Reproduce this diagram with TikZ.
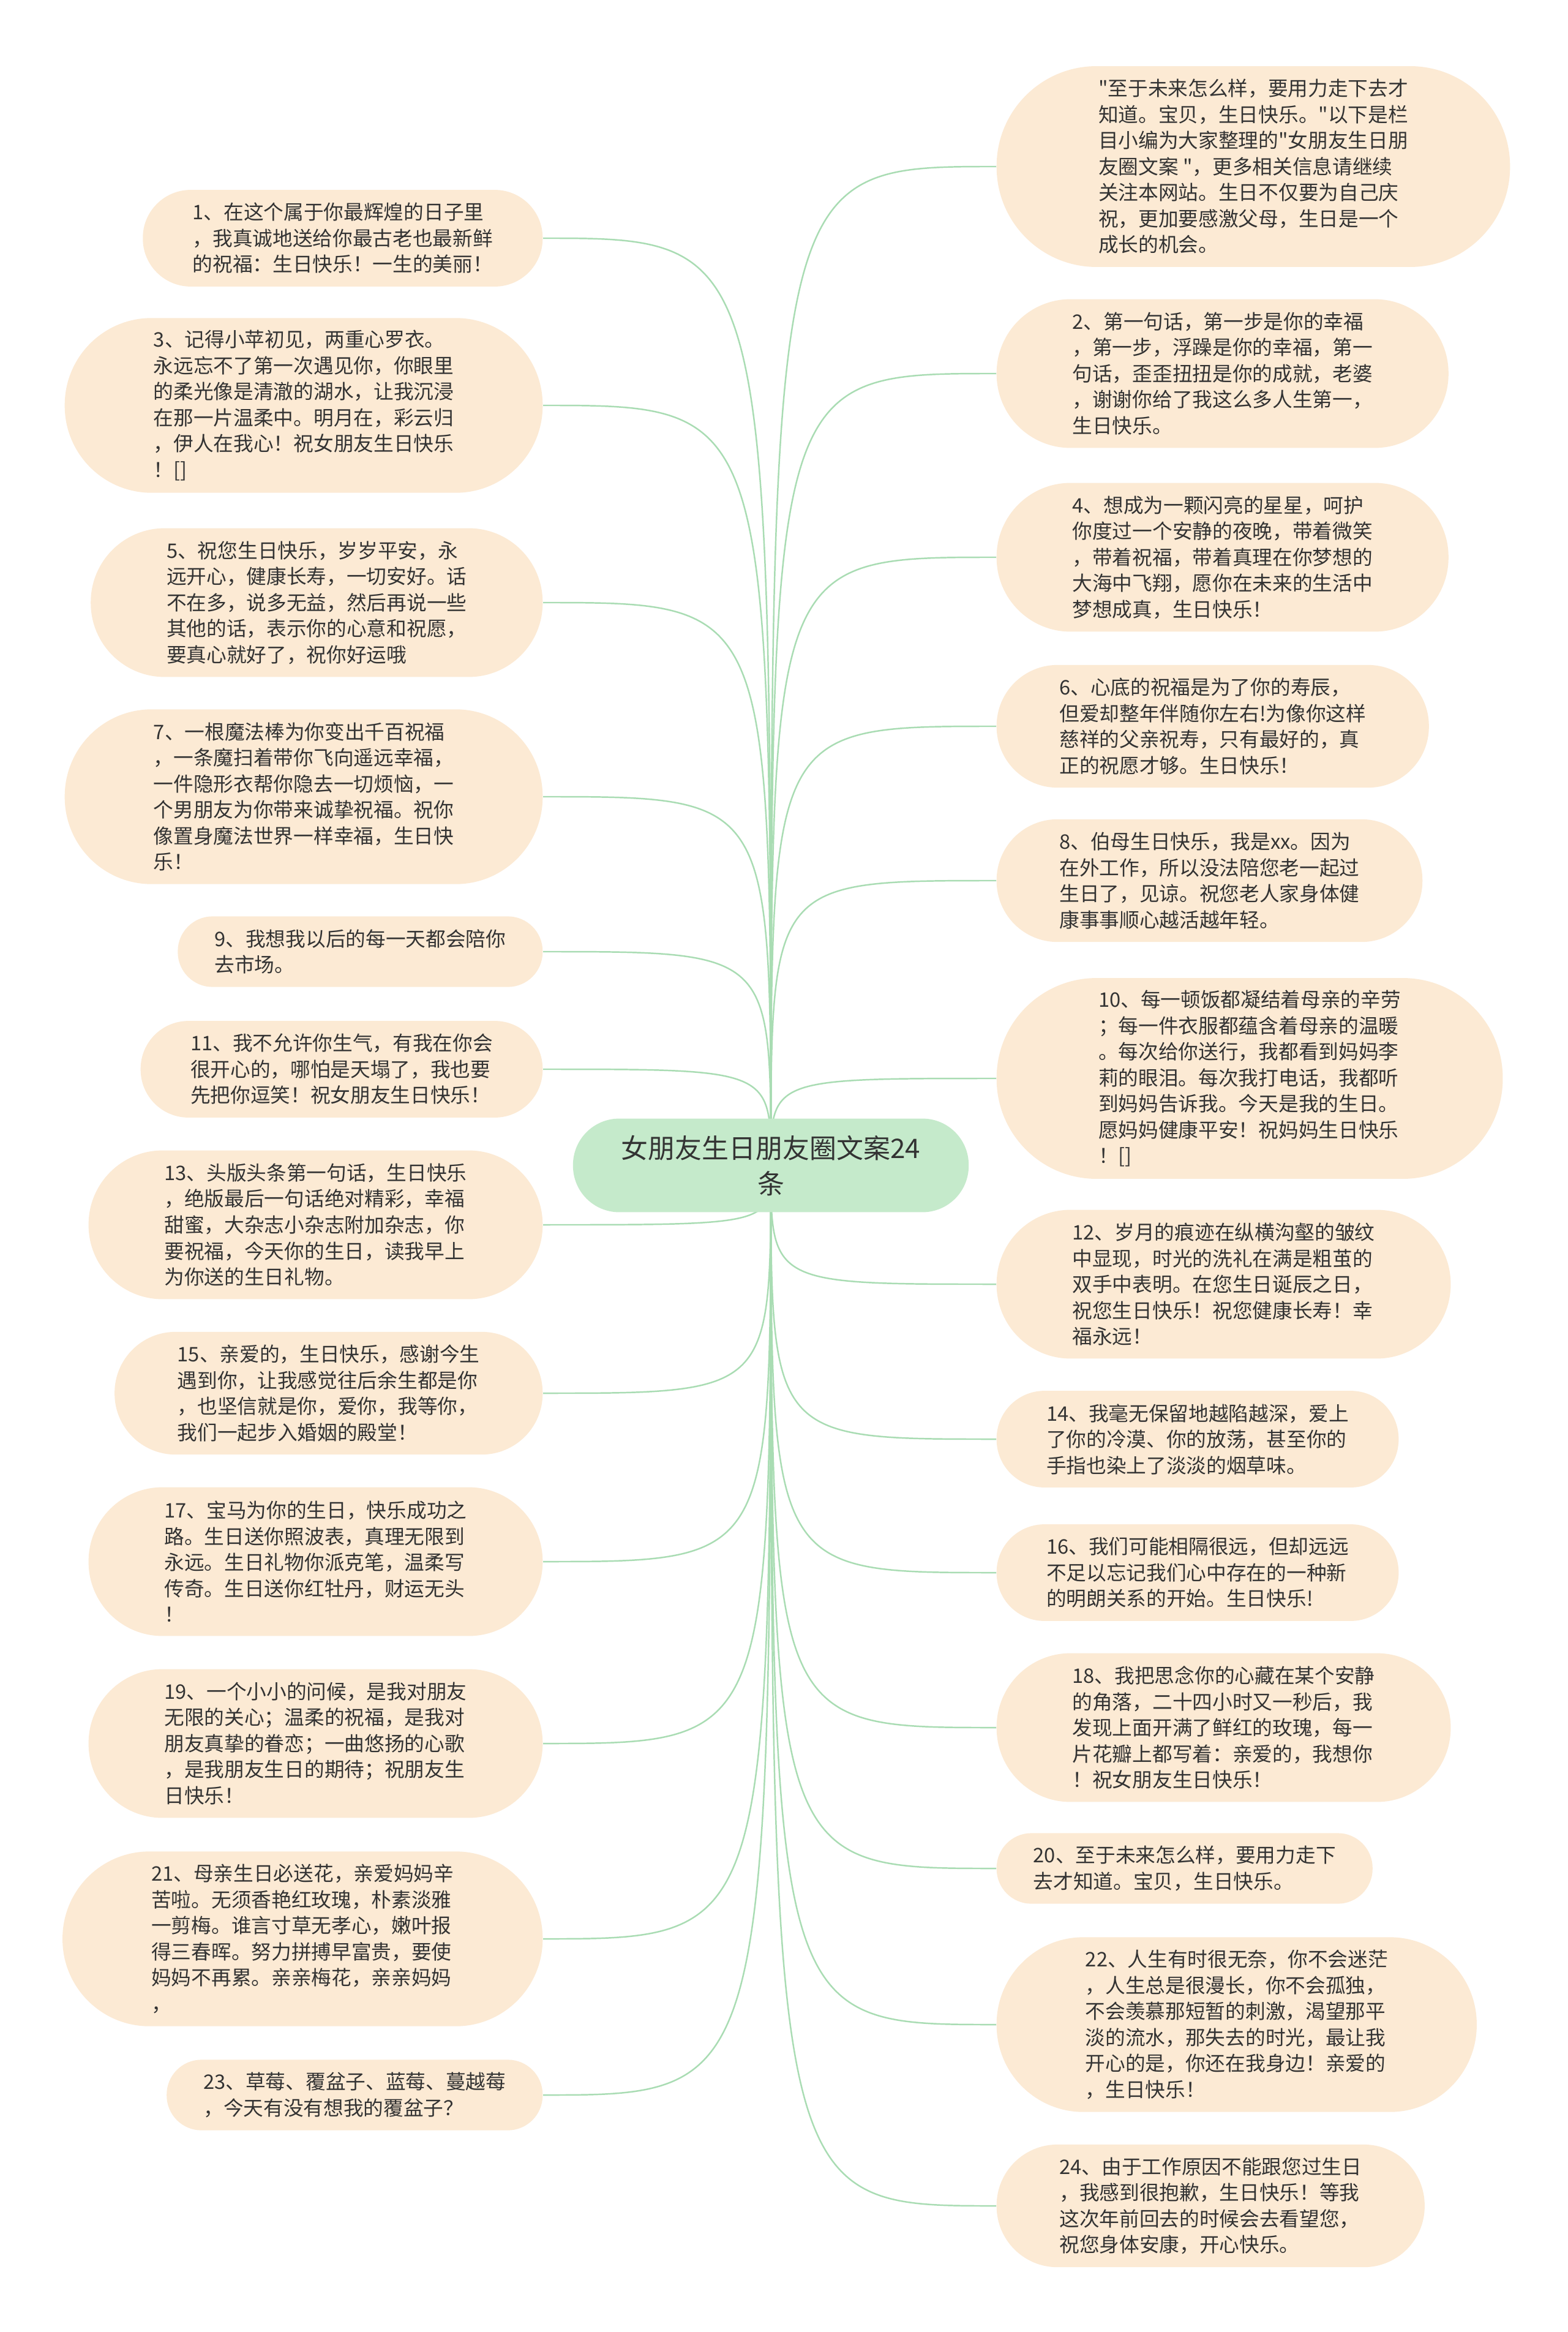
\documentclass[tikz,border=0pt]{standalone}
\usepackage{fontspec}
\newfontfamily\cjk{Noto Sans CJK SC}
\usetikzlibrary{backgrounds}
\definecolor{peach}{HTML}{FCEAD4}
\definecolor{mint}{HTML}{C5EACB}
\definecolor{wire}{HTML}{A9DCB3}
\definecolor{ink}{HTML}{333333}

\begin{document}
\begin{tikzpicture}[
  font=\cjk\fontsize{9.3pt}{12.1pt}\selectfont,
  leaf/.style={rectangle, fill=peach, text=ink, align=left, inner ysep=0pt,
    minimum height=12.1pt*#1+8.6pt, inner xsep=6.05pt*#1+5pt,
    rounded corners=6.05pt*#1+4.1pt},
  lt/.style={leaf=#1, anchor=east},
  rt/.style={leaf=#1, anchor=west},
  root/.style={rectangle, fill=mint, text=ink, align=center, inner ysep=0pt,
    minimum height=43.5pt, inner xsep=22.5pt, rounded corners=21.5pt,
    font=\cjk\fontsize{12.5pt}{16.5pt}\selectfont}]

\useasboundingbox (0,0) rectangle (25.6,-38.08);

% ===== root =====
\node[root] (root) at (12.59,-19.03) {女朋友生日朋友圈文案24\\条};

% ===== left column (odd) =====
\node[lt=3] (l1)  at (8.87,-3.89)  {1、在这个属于你最辉煌的日子里\\，我真诚地送给你最古老也最新鲜\\的祝福：生日快乐！一生的美丽！};
\node[lt=6] (l3)  at (8.87,-6.62)  {3、记得小苹初见，两重心罗衣。\\永远忘不了第一次遇见你，你眼里\\的柔光像是清澈的湖水，让我沉浸\\在那一片温柔中。明月在，彩云归\\，伊人在我心！祝女朋友生日快乐\\！[]};
\node[lt=5] (l5)  at (8.87,-9.84)  {5、祝您生日快乐，岁岁平安，永\\远开心，健康长寿，一切安好。话\\不在多，说多无益，然后再说一些\\其他的话，表示你的心意和祝愿，\\要真心就好了，祝你好运哦};
\node[lt=6] (l7)  at (8.87,-13.01) {7、一根魔法棒为你变出千百祝福\\，一条魔扫着带你飞向遥远幸福，\\一件隐形衣帮你隐去一切烦恼，一\\个男朋友为你带来诚挚祝福。祝你\\像置身魔法世界一样幸福，生日快\\乐！};
\node[lt=2] (l9)  at (8.87,-15.54) {9、我想我以后的每一天都会陪你\\去市场。};
\node[lt=3] (l11) at (8.87,-17.46) {11、我不允许你生气，有我在你会\\很开心的，哪怕是天塌了，我也要\\先把你逗笑！祝女朋友生日快乐！};
\node[lt=5] (l13) at (8.87,-20.00) {13、头版头条第一句话，生日快乐\\，绝版最后一句话绝对精彩，幸福\\甜蜜，大杂志小杂志附加杂志，你\\要祝福，今天你的生日，读我早上\\为你送的生日礼物。};
\node[lt=4] (l15) at (8.87,-22.75) {15、亲爱的，生日快乐，感谢今生\\遇到你，让我感觉往后余生都是你\\，也坚信就是你，爱你，我等你，\\我们一起步入婚姻的殿堂！};
\node[lt=5] (l17) at (8.87,-25.50) {17、宝马为你的生日，快乐成功之\\路。生日送你照波表，真理无限到\\永远。生日礼物你派克笔，温柔写\\传奇。生日送你红牡丹，财运无头\\！};
\node[lt=5] (l19) at (8.87,-28.47) {19、一个小小的问候，是我对朋友\\无限的关心；温柔的祝福，是我对\\朋友真挚的眷恋；一曲悠扬的心歌\\，是我朋友生日的期待；祝朋友生\\日快乐！};
\node[lt=6] (l21) at (8.87,-31.66) {21、母亲生日必送花，亲爱妈妈辛\\苦啦。无须香艳红玫瑰，朴素淡雅\\一剪梅。谁言寸草无孝心，嫩叶报\\得三春晖。努力拼搏早富贵，要使\\妈妈不再累。亲亲梅花，亲亲妈妈\\，};
\node[lt=2] (l23) at (8.87,-34.21) {23、草莓、覆盆子、蓝莓、蔓越莓\\，今天有没有想我的覆盆子？};

% ===== right column (even) =====
\node[rt=7] (r0)  at (16.27,-2.72)  {"至于未来怎么样，要用力走下去才\\知道。宝贝，生日快乐。"以下是栏\\目小编为大家整理的"女朋友生日朋\\友圈文案 "，更多相关信息请继续\\关注本网站。生日不仅要为自己庆\\祝，更加要感激父母，生日是一个\\成长的机会。};
\node[rt=5] (r2)  at (16.27,-6.10)  {2、第一句话，第一步是你的幸福\\，第一步，浮躁是你的幸福，第一\\句话，歪歪扭扭是你的成就，老婆\\，谢谢你给了我这么多人生第一，\\生日快乐。};
\node[rt=5] (r4)  at (16.27,-9.10)  {4、想成为一颗闪亮的星星，呵护\\你度过一个安静的夜晚，带着微笑\\，带着祝福，带着真理在你梦想的\\大海中飞翔，愿你在未来的生活中\\梦想成真，生日快乐！};
\node[rt=4] (r6)  at (16.27,-11.86) {6、心底的祝福是为了你的寿辰，\\但爱却整年伴随你左右!为像你这样\\慈祥的父亲祝寿，只有最好的，真\\正的祝愿才够。生日快乐！};
\node[rt=4] (r8)  at (16.27,-14.38) {8、伯母生日快乐，我是xx。因为\\在外工作，所以没法陪您老一起过\\生日了，见谅。祝您老人家身体健\\康事事顺心越活越年轻。};
\node[rt=7] (r10) at (16.27,-17.61) {10、每一顿饭都凝结着母亲的辛劳\\；每一件衣服都蕴含着母亲的温暖\\。每次给你送行，我都看到妈妈李\\莉的眼泪。每次我打电话，我都听\\到妈妈告诉我。今天是我的生日。\\愿妈妈健康平安！祝妈妈生日快乐\\！[]};
\node[rt=5] (r12) at (16.27,-20.97) {12、岁月的痕迹在纵横沟壑的皱纹\\中显现，时光的洗礼在满是粗茧的\\双手中表明。在您生日诞辰之日，\\祝您生日快乐！祝您健康长寿！幸\\福永远！};
\node[rt=3] (r14) at (16.27,-23.50) {14、我毫无保留地越陷越深，爱上\\了你的冷漠、你的放荡，甚至你的\\手指也染上了淡淡的烟草味。};
\node[rt=3] (r16) at (16.27,-25.68) {16、我们可能相隔很远，但却远远\\不足以忘记我们心中存在的一种新\\的明朗关系的开始。生日快乐!};
\node[rt=5] (r18) at (16.27,-28.21) {18、我把思念你的心藏在某个安静\\的角落，二十四小时又一秒后，我\\发现上面开满了鲜红的玫瑰，每一\\片花瓣上都写着：亲爱的，我想你\\！祝女朋友生日快乐！};
\node[rt=2] (r20) at (16.27,-30.51) {20、至于未来怎么样，要用力走下\\去才知道。宝贝，生日快乐。};
\node[rt=6] (r22) at (16.27,-33.06) {22、人生有时很无奈，你不会迷茫\\，人生总是很漫长，你不会孤独，\\不会羡慕那短暂的刺激，渴望那平\\淡的流水，那失去的时光，最让我\\开心的是，你还在我身边！亲爱的\\，生日快乐！};
\node[rt=4] (r24) at (16.27,-36.02) {24、由于工作原因不能跟您过生日\\，我感到很抱歉，生日快乐！等我\\这次年前回去的时候会去看望您，\\祝您身体安康，开心快乐。};

% ===== page =====
\begin{scope}[on background layer]
\fill[white] (0,0) rectangle (25.6,-38.08);
\end{scope}

% ===== edges (behind the nodes) =====
\begin{scope}[on background layer, every path/.style={draw=wire, line width=0.7pt}]
\draw (root.center) .. controls (root.center |- l1.east) .. (l1.east);
\draw (root.center) .. controls (root.center |- l3.east) .. (l3.east);
\draw (root.center) .. controls (root.center |- l5.east) .. (l5.east);
\draw (root.center) .. controls (root.center |- l7.east) .. (l7.east);
\draw (root.center) .. controls (root.center |- l9.east) .. (l9.east);
\draw (root.center) .. controls (root.center |- l11.east) .. (l11.east);
\draw (root.center) .. controls (root.center |- l13.east) .. (l13.east);
\draw (root.center) .. controls (root.center |- l15.east) .. (l15.east);
\draw (root.center) .. controls (root.center |- l17.east) .. (l17.east);
\draw (root.center) .. controls (root.center |- l19.east) .. (l19.east);
\draw (root.center) .. controls (root.center |- l21.east) .. (l21.east);
\draw (root.center) .. controls (root.center |- l23.east) .. (l23.east);
\draw (root.center) .. controls (root.center |- r0.west) .. (r0.west);
\draw (root.center) .. controls (root.center |- r2.west) .. (r2.west);
\draw (root.center) .. controls (root.center |- r4.west) .. (r4.west);
\draw (root.center) .. controls (root.center |- r6.west) .. (r6.west);
\draw (root.center) .. controls (root.center |- r8.west) .. (r8.west);
\draw (root.center) .. controls (root.center |- r10.west) .. (r10.west);
\draw (root.center) .. controls (root.center |- r12.west) .. (r12.west);
\draw (root.center) .. controls (root.center |- r14.west) .. (r14.west);
\draw (root.center) .. controls (root.center |- r16.west) .. (r16.west);
\draw (root.center) .. controls (root.center |- r18.west) .. (r18.west);
\draw (root.center) .. controls (root.center |- r20.west) .. (r20.west);
\draw (root.center) .. controls (root.center |- r22.west) .. (r22.west);
\draw (root.center) .. controls (root.center |- r24.west) .. (r24.west);
\end{scope}

\end{tikzpicture}
\end{document}
